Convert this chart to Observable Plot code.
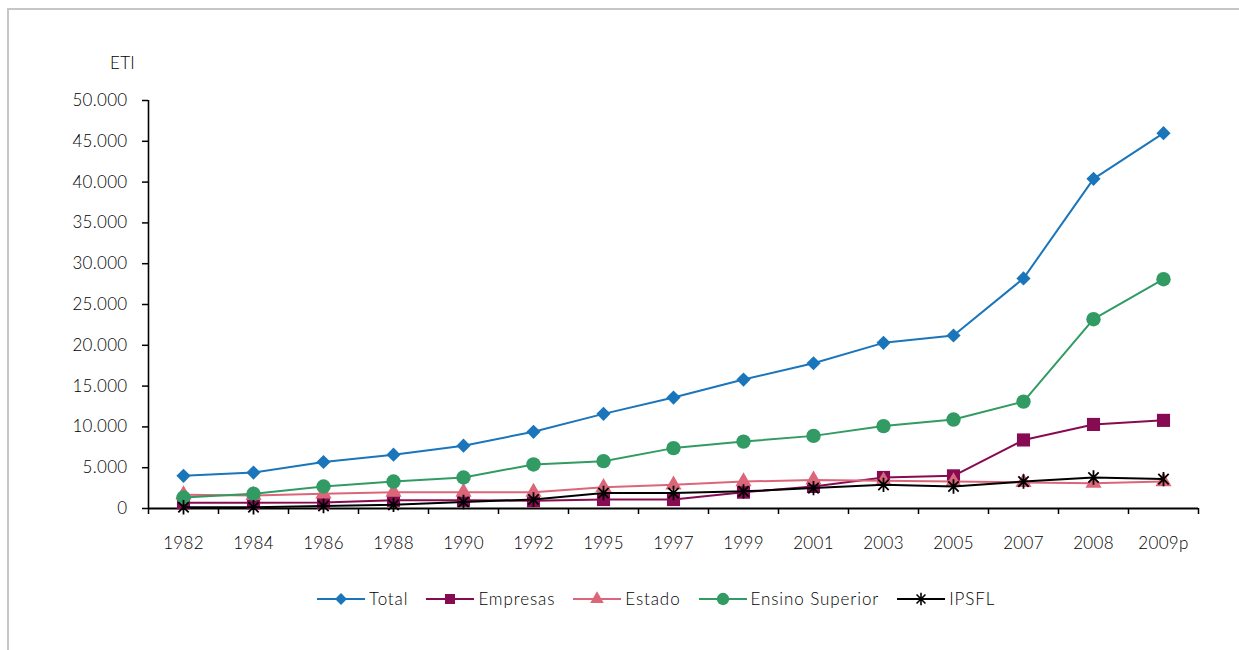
<!DOCTYPE html>
<html>
<head>
<meta charset="utf-8">
<script src="https://cdn.jsdelivr.net/npm/d3@7"></script>
<script src="https://cdn.jsdelivr.net/npm/@observablehq/plot@0.6"></script>
<style>
  html, body { margin: 0; padding: 0; background: #fff; width: 1239px; height: 650px; overflow: hidden; }
  #frame { position: absolute; left: 7px; top: 8px; width: 1240px; height: 650px; border-left: 2px solid #c6c6c6; border-top: 2px solid #c6c6c6; pointer-events: none; z-index: 2; }
  #chart { position: absolute; left: 0; top: 0; }
  #legend { position: absolute; left: 317px; top: 588px; display: flex;
            font-family: Lato, "Open Sans", sans-serif; font-weight: 300; font-size: 17px; color: #000; letter-spacing: 0.9px; }
  .item { display: flex; align-items: center; margin-right: 18px; }
  .item svg { margin-right: 4px; }
</style>
</head>
<body>
<div id="frame"></div>
<div id="chart"></div>
<div id="legend"></div>
<script>
const years = ["1982","1984","1986","1988","1990","1992","1995","1997","1999","2001","2003","2005","2007","2008","2009p"];
const total    = [4000, 4400, 5700, 6600, 7700, 9400, 11600, 13600, 15800, 17800, 20300, 21200, 28200, 40400, 46000];
const empresas = [700, 700, 750, 1000, 1000, 950, 1100, 1100, 2000, 2700, 3800, 4000, 8400, 10300, 10800];
const estado   = [1700, 1600, 1800, 2000, 2000, 2000, 2600, 2900, 3300, 3500, 3400, 3300, 3200, 3100, 3300];
const ensino   = [1350, 1800, 2700, 3300, 3800, 5400, 5800, 7400, 8200, 8900, 10100, 10900, 13100, 23200, 28100];
const ipsfl    = [150, 150, 300, 450, 800, 1100, 1900, 1900, 2100, 2500, 2900, 2700, 3300, 3800, 3600];
const yTicks = [0, 5000, 10000, 15000, 20000, 25000, 30000, 35000, 40000, 45000, 50000];
const seriesNames = ["Total", "Empresas", "Estado", "Ensino Superior", "IPSFL"];
const seriesColors = ["#1B75BB", "#870B52", "#DC6679", "#319B63", "#000000"];

const fmt = d3.formatLocale({decimal: ",", thousands: ".", grouping: [3], currency: ["", ""]}).format(",");

// custom "star" marker: X with a vertical bar
const starSymbol = {
  draw(ctx, size) {
    const r = Math.sqrt(size / Math.PI);
    const d = r * 0.72;
    ctx.moveTo(-d, -d); ctx.lineTo(d, d);
    ctx.moveTo(d, -d); ctx.lineTo(-d, d);
    ctx.moveTo(0, -r); ctx.lineTo(0, r);
  }
};

const seriesValues = [total, empresas, estado, ensino, ipsfl];
const seriesData = seriesValues.map((vals, s) => vals.map((v, i) => ({i, v, s: seriesNames[s]})));

const symbols = ["diamond2", "square", "triangle", "circle", starSymbol];
const radii = [6.4, 7.4, 6.0, 7.2, 7.2];

const marks = [
  Plot.axisY({ticks: yTicks, tickFormat: fmt, tickSize: 6, tickPadding: 15, label: null, strokeWidth: 1.5}),
  Plot.axisX({ticks: d3.range(years.length), tickFormat: i => years[i], tickSize: 0, tickPadding: 28, label: null}),
  Plot.axisX({ticks: d3.range(years.length + 1).map(i => i - 0.5), tickFormat: () => "", tickSize: 6, tickPadding: 0, label: null, strokeWidth: 1.5}),
  Plot.ruleX([-0.5], {y1: 0, y2: 50000, stroke: "#000", strokeWidth: 1.6}),
  Plot.ruleY([0], {x1: -0.5, x2: years.length - 0.5, stroke: "#000", strokeWidth: 2}),
  Plot.text(["ETI"], {frameAnchor: "top-left", dx: -26, dy: -44, textAnchor: "middle", fill: "#000"})
];

seriesData.forEach((data, s) => {
  marks.push(Plot.line(data, {x: "i", y: "v", stroke: seriesColors[s], strokeWidth: 2}));
  if (s === 4) {
    marks.push(Plot.dot(data, {x: "i", y: "v", symbol: symbols[s], r: radii[s], fill: "none", stroke: seriesColors[s], strokeWidth: 1.8}));
  } else {
    marks.push(Plot.dot(data, {x: "i", y: "v", symbol: symbols[s], r: radii[s], fill: seriesColors[s], stroke: "none"}));
  }
});

const chart = Plot.plot({
  width: 1239,
  height: 570,
  marginLeft: 148,
  marginRight: 41,
  marginTop: 100,
  marginBottom: 62,
  style: {fontFamily: "Lato, 'Open Sans', sans-serif", fontWeight: 300, fontSize: "17px", color: "#000", background: "transparent", overflow: "visible", letterSpacing: "0.3px"},
  x: {type: "linear", domain: [-0.5, years.length - 0.5], axis: null},
  y: {domain: [0, 50000], axis: null},
  marks
});
document.getElementById("chart").appendChild(chart);

// legend
const legend = document.getElementById("legend");
seriesNames.forEach((name, s) => {
  const item = document.createElement("div");
  item.className = "item";
  const svg = d3.create("svg").attr("width", 48).attr("height", 18);
  svg.append("line").attr("x1", 0).attr("x2", 48).attr("y1", 9).attr("y2", 9)
    .attr("stroke", seriesColors[s]).attr("stroke-width", 2);
  const symTypes = [d3.symbolDiamond2, d3.symbolSquare, d3.symbolTriangle, d3.symbolCircle, starSymbol];
  const sz = [90, 100, 80, 120, 120];
  const p = svg.append("path").attr("transform", "translate(24,9)")
    .attr("d", d3.symbol(symTypes[s], sz[s])());
  if (s === 4) p.attr("fill", "none").attr("stroke", "#000").attr("stroke-width", 1.6);
  else p.attr("fill", seriesColors[s]);
  item.appendChild(svg.node());
  const t = document.createElement("span");
  t.textContent = name;
  item.appendChild(t);
  legend.appendChild(item);
});
</script>
</body>
</html>
